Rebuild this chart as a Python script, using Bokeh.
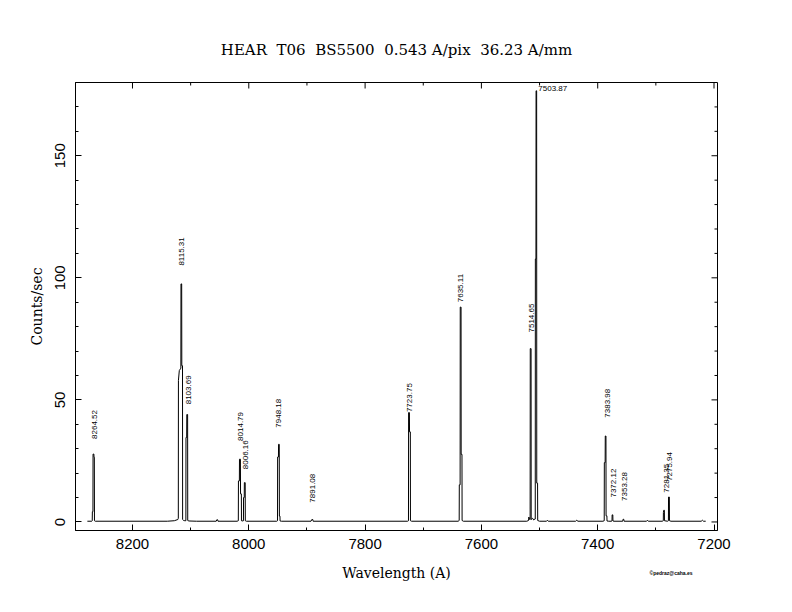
import math
from bokeh.plotting import figure
from bokeh.models import Range1d, SingleIntervalTicker, ColumnDataSource, Title
from bokeh.core.properties import value
from bokeh.embed import file_html
from bokeh.resources import INLINE

# ---------------- data ----------------
title_text = "HEAR \u00a0T06 \u00a0BS5500 \u00a00.543 A/pix \u00a036.23 A/mm"
x_title = "Wavelength (A)"
y_title = "Counts/sec"
credit_text = "\u00a9pedraz@caha.es"

# spectrum (wavelength in A, counts/sec)
spec_wl = [
    8277.6, 8270.0, 8269.2, 8269.0, 8268.0, 8267.8, 8266.4, 8266.2, 8265.6, 8265.4, 8264.0,
    8140.0, 8128.0, 8122.0, 8121.2, 8121.0, 8119.5, 8116.8, 8116.6, 8115.4, 8115.2, 8114.0, 8113.8, 8112.0,
    8110.0, 8108.2, 8108.0, 8106.8, 8106.6, 8105.2, 8105.0, 8103.0, 8090.0,
    8056.0, 8055.0, 8053.6, 8053.0,
    8020.0, 8018.0, 8017.8, 8016.2, 8016.0, 8014.4, 8014.2, 8012.8, 8012.6, 8010.0, 8009.2, 8009.0, 8007.8, 8007.6, 8006.2, 8006.0, 8004.0,
    7952.0, 7950.6, 7950.4, 7949.0, 7948.8, 7947.6, 7947.4, 7946.4, 7946.2, 7944.0,
    7893.0, 7891.6, 7890.0, 7889.4,
    7727.0, 7725.4, 7725.2, 7723.8, 7723.6, 7722.2, 7722.0, 7720.0,
    7640.0, 7638.2, 7638.0, 7636.6, 7636.4, 7635.0, 7634.8, 7633.4, 7633.2, 7631.0,
    7522.0, 7519.0, 7518.4, 7517.0, 7516.2, 7516.0, 7514.6, 7514.4, 7512.0, 7510.0, 7508.0, 7507.4, 7507.2, 7506.2, 7506.0, 7505.0, 7504.8, 7503.4, 7503.2, 7500.0,
    7488.0, 7486.5, 7485.0,
    7438.0, 7436.0, 7434.0,
    7391.0, 7388.8, 7388.6, 7387.2, 7387.0, 7385.8, 7385.6, 7384.2, 7384.0, 7381.0,
    7376.5, 7375.4, 7375.2, 7374.0, 7373.8, 7372.0,
    7357.0, 7356.4, 7355.2, 7354.6,
    7316.0, 7314.5, 7313.0,
    7289.0, 7287.2, 7287.0, 7286.4, 7285.4, 7285.2, 7280.0, 7278.4, 7278.2, 7276.8, 7276.6, 7274.0,
    7222.0, 7220.0, 7218.0, 7214.3,
]
spec_counts = [
    0.3, 0.3, 0.5, 4.2, 4.2, 27.8, 27.8, 26.5, 26.5, 0.5, 0.3,
    0.3, 0.5, 1.0, 1.5, 58.0, 62.0, 63.0, 97.5, 97.5, 64.0, 64.0, 1.0, 0.6,
    0.5, 0.5, 34.6, 34.6, 44.0, 44.0, 0.6, 0.4, 0.3,
    0.3, 0.9, 0.9, 0.3,
    0.3, 0.5, 16.8, 16.8, 25.7, 25.7, 11.5, 11.5, 0.5, 0.4, 0.5, 10.0, 10.0, 16.1, 16.1, 0.5, 0.3,
    0.3, 0.5, 26.6, 26.6, 31.8, 31.8, 2.4, 2.4, 0.4, 0.3,
    0.3, 1.0, 1.0, 0.3,
    0.3, 0.5, 44.8, 44.8, 36.9, 36.9, 0.5, 0.3,
    0.3, 0.6, 15.2, 15.2, 88.0, 88.0, 27.7, 27.7, 0.6, 0.3,
    0.3, 0.6, 2.0, 1.0, 1.0, 71.0, 71.0, 1.0, 1.5, 0.8, 1.2, 1.2, 107.7, 107.7, 176.6, 176.6, 15.9, 15.9, 0.6, 0.3,
    0.3, 0.7, 0.3,
    0.3, 0.7, 0.3,
    0.3, 0.5, 24.3, 24.3, 35.2, 35.2, 2.5, 2.5, 0.4, 0.3,
    0.3, 0.4, 2.9, 2.9, 0.4, 0.3,
    0.3, 1.1, 1.1, 0.3,
    0.3, 0.7, 0.3,
    0.3, 0.5, 3.9, 4.8, 4.8, 0.5, 0.3, 0.5, 10.2, 10.2, 0.5, 0.3,
    0.3, 0.7, 0.3, 0.3,
]

# identified lines (vertical labels) and the height where each label starts
line_ids = ["8264.52", "8115.31", "8103.69", "8014.79", "8006.16", "7948.18", "7891.08",
            "7723.75", "7635.11", "7514.65", "7383.98", "7372.12", "7353.28", "7281.35", "7275.94"]
line_wl = [8264.52, 8115.31, 8103.69, 8014.79, 8006.16, 7948.18, 7891.08,
           7723.75, 7635.11, 7514.65, 7383.98, 7372.12, 7353.28, 7281.35, 7275.94]
label_start = [34.0, 105.0, 48.2, 33.2, 21.6, 38.6, 7.9,
               45.0, 90.0, 77.6, 42.7, 10.0, 8.6, 12.0, 16.8]

# strongest line, labelled horizontally at the top
top_id = ["7503.87"]
top_wl = [7503.87]
top_level = [177.7]

x_limits = (8298, 7194)
y_limits = (-3.5, 180)
x_major_step = 200
x_minor_step = 100
y_major_step = 50
y_minor_step = 10

# ---------------- figure ----------------
p = figure(width=776, height=596,
           x_range=Range1d(*x_limits), y_range=Range1d(*y_limits),
           output_backend="svg", toolbar_location=None,
           min_border_left=75, min_border_right=59,
           min_border_top=82, min_border_bottom=66,
           x_axis_label=x_title, y_axis_label=y_title,
           background_fill_color="white", border_fill_color="white")

p.xgrid.visible = False
p.ygrid.visible = False
p.outline_line_color = "black"
p.outline_line_width = 1

p.title.text = title_text
p.title.text_font = "DejaVu Serif"
p.title.text_font_size = "15px"
p.title.text_font_style = "normal"
p.title.text_color = "black"
p.title.align = "center"
p.title.standoff = 47

p.xaxis.ticker = SingleIntervalTicker(interval=x_major_step, num_minor_ticks=2)
p.yaxis.ticker = SingleIntervalTicker(interval=y_major_step, num_minor_ticks=5)

for ax in p.axis:
    ax.axis_line_color = "black"
    ax.major_tick_line_color = "black"
    ax.minor_tick_line_color = "black"
    ax.major_tick_in = 6
    ax.major_tick_out = 0
    ax.minor_tick_in = 3
    ax.minor_tick_out = 0
    ax.major_label_text_font = "Liberation Sans"
    ax.major_label_text_font_size = "15px"
    ax.major_label_text_color = "black"
    ax.axis_label_text_font = "DejaVu Serif"
    ax.axis_label_text_font_size = "14px"
    ax.axis_label_text_font_style = "normal"
    ax.axis_label_text_color = "black"

p.xaxis[0].major_label_standoff = 8
p.xaxis[0].axis_label_standoff = 13
p.yaxis[0].major_label_orientation = "vertical"
p.yaxis[0].major_label_standoff = 10
p.yaxis[0].axis_label_standoff = 8

# mirrored inward ticks on the right and top edges of the box
right_ticks = list(range(0, int(y_limits[1]), y_minor_step))
right_len = [6 if t % y_major_step == 0 else 3 for t in right_ticks]
p.ray(x=[x_limits[1]] * len(right_ticks), y=right_ticks, length=right_len,
      length_units="screen", angle=math.pi, line_color="black", line_width=1)

top_ticks = list(range(7200, int(x_limits[0]), x_minor_step))
top_len = [6 if t % x_major_step == 0 else 3 for t in top_ticks]
p.ray(x=top_ticks, y=[y_limits[1]] * len(top_ticks), length=top_len,
      length_units="screen", angle=-math.pi / 2, line_color="black", line_width=1)

# spectrum
p.line(spec_wl, spec_counts, line_color="black", line_width=1)

lab_src = ColumnDataSource(dict(x=line_wl, y=label_start, text=line_ids))
p.text(x="x", y="y", text="text", source=lab_src, angle=math.pi / 2,
       text_font=value("Liberation Sans"), text_font_size="8px",
       text_align="left", text_baseline="alphabetic", text_color="black")

top_src = ColumnDataSource(dict(x=top_wl, y=top_level, text=top_id))
p.text(x="x", y="y", text="text", source=top_src, x_offset=1,
       text_font=value("Liberation Sans"), text_font_size="8px",
       text_align="left", text_baseline="middle", text_color="black")

credit = Title(text=credit_text, align="right", offset=25, vertical_align="top",
               standoff=-28, text_font="Liberation Sans", text_font_size="5px",
               text_font_style="bold", text_color="black")
p.add_layout(credit, "below")

open("out.html", "w").write(file_html(p, INLINE))
